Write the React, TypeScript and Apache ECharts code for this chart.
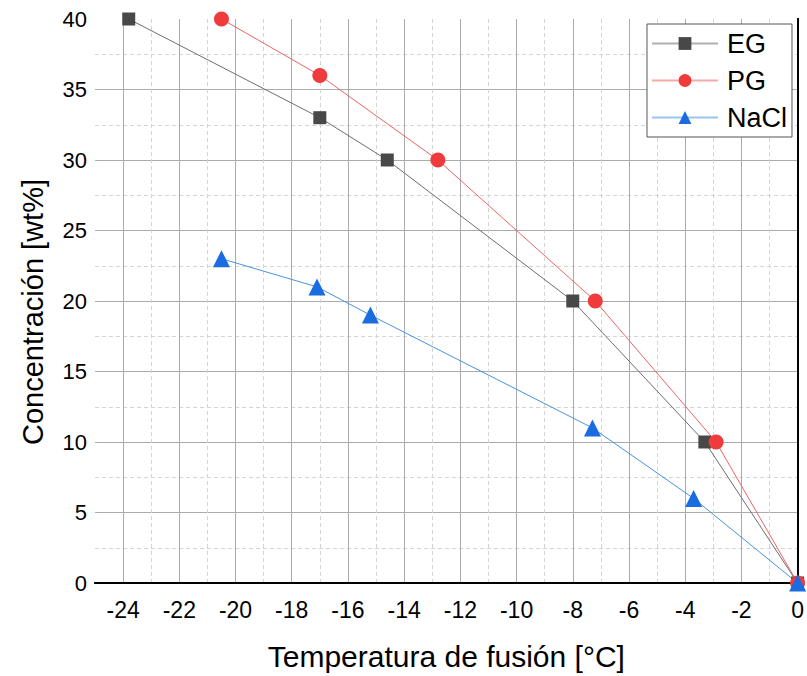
import React, { useEffect, useRef } from "react";
import * as echarts from "echarts";

const tempEG = [-23.8, -17.0, -14.6, -8.0, -3.3, 0];
const concEG = [40, 33, 30, 20, 10, 0];
const tempPG = [-20.5, -17.0, -12.8, -7.2, -2.9, 0];
const concPG = [40, 36, 30, 20, 10, 0];
const tempNaCl = [-20.5, -17.1, -15.2, -7.3, -3.7, 0];
const concNaCl = [23, 21, 19, 11, 6, 0];

const seriesNames = ["EG", "PG", "NaCl"];
const xTitle = "Temperatura de fusión [°C]";
const yTitle = "Concentración [wt%]";

const FONT = "Liberation Sans, Arial, sans-serif";

function zip(xs: number[], ys: number[]) {
  return xs.map((x, i) => [x, ys[i]]);
}

export default function App() {
  const ref = useRef<HTMLDivElement>(null);
  useEffect(() => {
    if (!ref.current) return;
    const chart = echarts.init(ref.current, undefined, { renderer: "svg" });
    const frame = { show: true, lineStyle: { color: "#000", width: 2 } };
    chart.setOption({
      animation: false,
      backgroundColor: "#fff",
      textStyle: { fontFamily: FONT },
      grid: { left: 95, top: 19, right: 9, bottom: 92, containLabel: false },
      legend: {
        orient: "vertical",
        right: 15,
        top: 24,
        padding: [6, 5, 6, 4],
        itemGap: 10,
        itemWidth: 66,
        itemHeight: 16,
        backgroundColor: "#fff",
        borderColor: "#555",
        borderWidth: 1,
        borderRadius: 0,
        lineStyle: { opacity: 0.55, width: 2 },
        textStyle: { fontSize: 27, color: "#000", fontFamily: FONT, padding: [0, 0, 0, 4] },
        data: seriesNames,
      },
      xAxis: [
        {
          type: "value",
          position: "bottom",
          min: -25,
          max: 0,
          interval: 1,
          z: 3,
          axisLine: frame,
          axisTick: { show: false },
          axisLabel: {
            fontSize: 23,
            color: "#000",
            fontFamily: FONT,
            margin: 15,
            formatter: (v: number) => (Math.round(v) % 2 === 0 ? String(Math.round(v)) : ""),
          },
          splitLine: {
            show: true,
            showMinLine: false,
            showMaxLine: false,
            lineStyle: { color: "#d4d4d4", type: [4, 3], width: 1 },
          },
          name: xTitle,
          nameLocation: "middle",
          nameGap: 58,
          nameTextStyle: { fontSize: 30, color: "#000", fontFamily: FONT },
        },
        {
          type: "value",
          position: "top",
          inverse: true,
          min: 0,
          max: 25,
          interval: 2,
          z: 3,
          axisLine: frame,
          axisTick: { show: false },
          axisLabel: { show: false },
          splitLine: {
            show: true,
            showMinLine: false,
            showMaxLine: false,
            lineStyle: { color: "#ababab", width: 1 },
          },
        },
      ],
      yAxis: [
        {
          type: "value",
          position: "left",
          min: 0,
          max: 40,
          interval: 5,
          z: 3,
          axisLine: frame,
          axisTick: { show: false },
          axisLabel: { fontSize: 22, color: "#000", fontFamily: FONT, margin: 8 },
          splitLine: {
            show: true,
            showMinLine: false,
            showMaxLine: false,
            lineStyle: { color: "#ababab", width: 1 },
          },
          minorTick: { show: false, splitNumber: 2 },
          minorSplitLine: { show: true, lineStyle: { color: "#d4d4d4", type: [4, 3], width: 1 } },
          name: yTitle,
          nameLocation: "middle",
          nameGap: 48,
          nameTextStyle: {
            fontSize: 29,
            color: "#000",
            fontFamily: FONT,
            padding: [0, 22, 0, 0],
          },
        },
        {
          type: "value",
          position: "right",
          min: 0,
          max: 40,
          z: 3,
          axisLine: frame,
          axisTick: { show: false },
          axisLabel: { show: false },
          splitLine: { show: false },
        },
      ],
      series: [
        {
          name: seriesNames[0],
          type: "line",
          xAxisIndex: 0,
          yAxisIndex: 0,
          z: 5,
          data: zip(tempEG, concEG),
          symbol: "rect",
          symbolSize: 13,
          lineStyle: { color: "#6e6e6e", width: 1 },
          itemStyle: { color: "#484848" },
        },
        {
          name: seriesNames[1],
          type: "line",
          xAxisIndex: 0,
          yAxisIndex: 0,
          z: 5,
          data: zip(tempPG, concPG),
          symbol: "circle",
          symbolSize: 15,
          lineStyle: { color: "#ec6464", width: 1 },
          itemStyle: { color: "#ef3b3b" },
        },
        {
          name: seriesNames[2],
          type: "line",
          xAxisIndex: 0,
          yAxisIndex: 0,
          z: 5,
          data: zip(tempNaCl, concNaCl),
          symbol: "triangle",
          symbolSize: 17,
          lineStyle: { color: "#4a92de", width: 1 },
          itemStyle: { color: "#1a6ce0" },
        },
      ],
    });
    return () => chart.dispose();
  }, []);
  return (
    <div
      ref={ref}
      style={{ position: "absolute", left: 0, top: 0, width: 807, height: 676, overflow: "hidden" }}
    />
  );
}
